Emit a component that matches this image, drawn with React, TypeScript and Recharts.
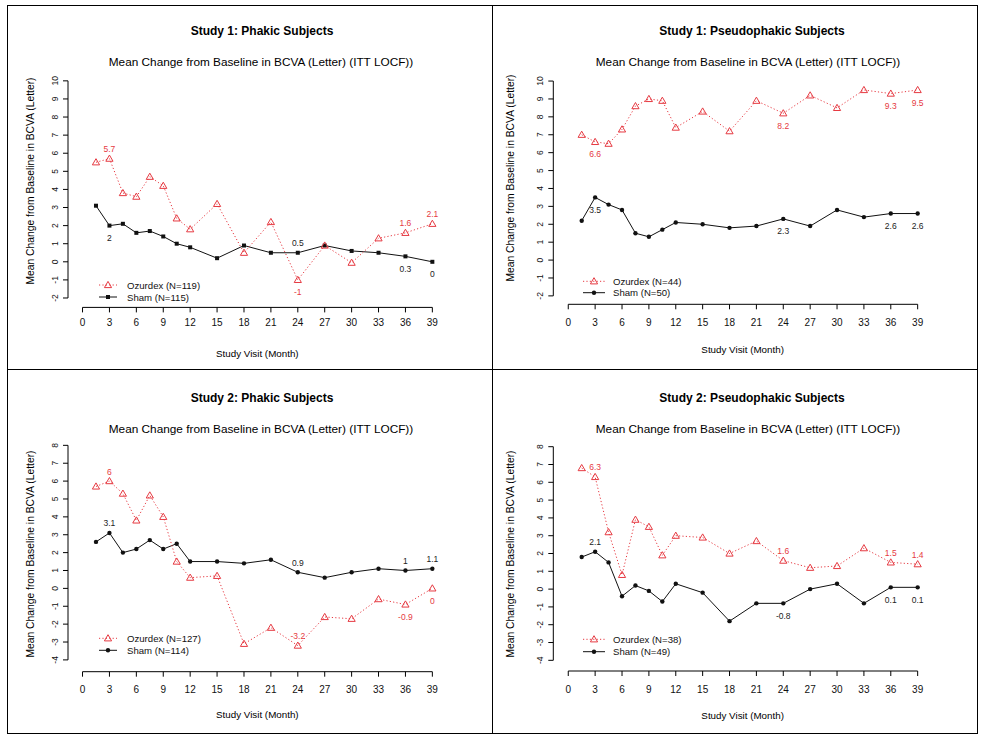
import React from 'react';
import { LineChart, Line, XAxis, YAxis, ReferenceLine } from 'recharts';

// ---------- data ----------
const months = [1.5, 3, 4.5, 6, 7.5, 9, 10.5, 12, 15, 18, 21, 24, 27, 30, 33, 36, 39];
const monthTicks = [0, 3, 6, 9, 12, 15, 18, 21, 24, 27, 30, 33, 36, 39];
const yTicksStudy1 = [-2, -1, 0, 1, 2, 3, 4, 5, 6, 7, 8, 9, 10];
const yTicksStudy2 = [-4, -3, -2, -1, 0, 1, 2, 3, 4, 5, 6, 7, 8];

const s1PhakicOzurdex = [5.5, 5.7, 3.8, 3.6, 4.7, 4.2, 2.4, 1.8, 3.2, 0.5, 2.2, -1, 0.9, -0.05, 1.3, 1.6, 2.1];
const s1PhakicSham = [3.1, 2, 2.1, 1.6, 1.7, 1.4, 1.0, 0.8, 0.2, 0.9, 0.5, 0.5, 0.9, 0.6, 0.5, 0.3, 0];

const s1PseudoOzurdex = [7.0, 6.6, 6.5, 7.3, 8.6, 9.0, 8.9, 7.4, 8.3, 7.2, 8.9, 8.2, 9.2, 8.5, 9.5, 9.3, 9.5];
const s1PseudoSham = [2.2, 3.5, 3.1, 2.8, 1.5, 1.3, 1.7, 2.1, 2.0, 1.8, 1.9, 2.3, 1.9, 2.8, 2.4, 2.6, 2.6];

const s2PhakicOzurdex = [5.7, 6, 5.3, 3.8, 5.2, 4.0, 1.5, 0.6, 0.7, -3.1, -2.2, -3.2, -1.6, -1.7, -0.6, -0.9, 0];
const s2PhakicSham = [2.6, 3.1, 2.0, 2.2, 2.7, 2.2, 2.5, 1.5, 1.5, 1.4, 1.6, 0.9, 0.6, 0.9, 1.1, 1, 1.1];

const s2PseudoOzurdex = [6.8, 6.3, 3.2, 0.8, 3.9, 3.5, 1.9, 3.0, 2.9, 2.0, 2.7, 1.6, 1.2, 1.3, 2.3, 1.5, 1.4];
const s2PseudoSham = [1.8, 2.1, 1.5, -0.4, 0.2, -0.1, -0.7, 0.3, -0.2, -1.8, -0.8, -0.8, 0.0, 0.3, -0.8, 0.1, 0.1];

// months whose values are annotated
const labelledMonths = [3, 24, 36, 39];

// ---------- styles ----------
const RED = '#E63A42';
const BLACK = '#111';
const FONT = '"Liberation Sans", Arial, sans-serif';

type Side = 'up' | 'down';

interface PanelCfg {
  title: string;
  ozName: string;
  shamName: string;
  oz: number[];
  sham: number[];
  yTicks: number[];
  ozSides: Side[];
  shamSides: Side[];
  shamMarker: 'square' | 'circle';
  geom: {
    left: number; top: number; width: number; height: number;
    plotLeft: number; plotRight: number; plotTop: number; plotBottom: number;
    xDomain: [number, number]; yDomain: [number, number];
    xLabelOff: number;
  };
  text: {
    titleX: number; titleY: number; subX: number; subY: number;
    yLabX: number; yLabY: number; xLabY: number;
    legX1: number; legX2: number; legTextX: number; legY1: number; legY2: number;
  };
}

const panels: PanelCfg[] = [
  {
    title: 'Study 1: Phakic Subjects', ozName: 'Ozurdex (N=119)', shamName: 'Sham (N=115)',
    oz: s1PhakicOzurdex, sham: s1PhakicSham, yTicks: yTicksStudy1,
    ozSides: ['up', 'down', 'up', 'up'], shamSides: ['down', 'up', 'down', 'down'], shamMarker: 'square',
    geom: { left: 0, top: 0, width: 492, height: 369, plotLeft: 68, plotRight: 446.7, plotTop: 71.8, plotBottom: 307.4,
      xDomain: [-1.62, 40.6], yDomain: [-2.52, 10.5], xLabelOff: 12 },
    text: { titleX: 262, titleY: 31, subX: 261, subY: 62, yLabX: 30, yLabY: 181, xLabY: 353,
      legX1: 99, legX2: 117, legTextX: 127, legY1: 285, legY2: 297 },
  },
  {
    title: 'Study 1: Pseudophakic Subjects', ozName: 'Ozurdex (N=44)', shamName: 'Sham (N=50)',
    oz: s1PseudoOzurdex, sham: s1PseudoSham, yTicks: yTicksStudy1,
    ozSides: ['down', 'down', 'down', 'down'], shamSides: ['down', 'down', 'down', 'down'], shamMarker: 'circle',
    geom: { left: 492, top: 0, width: 492, height: 369, plotLeft: 61.3, plotRight: 440, plotTop: 72.1, plotBottom: 304.3,
      xDomain: [-1.67, 40.6], yDomain: [-2.47, 10.5], xLabelOff: 15 },
    text: { titleX: 752, titleY: 31, subX: 748, subY: 62, yLabX: 510, yLabY: 178, xLabY: 349,
      legX1: 583, legX2: 605, legTextX: 613, legY1: 281.3, legY2: 292.7 },
  },
  {
    title: 'Study 2: Phakic Subjects', ozName: 'Ozurdex (N=127)', shamName: 'Sham (N=114)',
    oz: s2PhakicOzurdex, sham: s2PhakicSham, yTicks: yTicksStudy2,
    ozSides: ['up', 'up', 'down', 'down'], shamSides: ['up', 'up', 'up', 'up'], shamMarker: 'circle',
    geom: { left: 0, top: 369, width: 492, height: 375, plotLeft: 68, plotRight: 446.7, plotTop: 67.4, plotBottom: 302.7,
      xDomain: [-1.62, 40.6], yDomain: [-4.66, 8.5], xLabelOff: 14 },
    text: { titleX: 262, titleY: 398, subX: 261, subY: 429, yLabX: 30, yLabY: 554, xLabY: 714,
      legX1: 99, legX2: 117, legTextX: 127, legY1: 638.3, legY2: 650.3 },
  },
  {
    title: 'Study 2: Pseudophakic Subjects', ozName: 'Ozurdex (N=38)', shamName: 'Sham (N=49)',
    oz: s2PseudoOzurdex, sham: s2PseudoSham, yTicks: yTicksStudy2,
    ozSides: ['up', 'up', 'up', 'up'], shamSides: ['up', 'down', 'down', 'down'], shamMarker: 'circle',
    geom: { left: 492, top: 369, width: 492, height: 375, plotLeft: 61.3, plotRight: 440, plotTop: 68.8, plotBottom: 302,
      xDomain: [-1.67, 40.6], yDomain: [-4.6, 8.5], xLabelOff: 15 },
    text: { titleX: 752, titleY: 398, subX: 748, subY: 429, yLabX: 510, yLabY: 554, xLabY: 715,
      legX1: 583, legX2: 605, legTextX: 613, legY1: 639.3, legY2: 651.7 },
  },
];

// ---------- helpers ----------
const tri = (cx: number, cy: number, color: string) => (
  <path d={`M${cx},${cy - 3.6} L${cx + 3.6},${cy + 2.6} L${cx - 3.6},${cy + 2.6} Z`} fill="none" stroke={color} strokeWidth={1} />
);

const shamMark = (cx: number, cy: number, kind: 'square' | 'circle') =>
  kind === 'square'
    ? <rect x={cx - 2} y={cy - 2} width={4} height={4} fill={BLACK} />
    : <circle cx={cx} cy={cy} r={2.2} fill={BLACK} />;

const labelText = (cx: number, cy: number, side: Side, value: number, color: string) => (
  <text x={cx} y={side === 'up' ? cy - 6.5 : cy + 15.5} textAnchor="middle" fontSize={8.5} fill={color} fontFamily={FONT}>
    {String(value)}
  </text>
);

const XTick = (props: any) => {
  const { x, y, payload, off } = props;
  return (
    <text x={x} y={y + off} textAnchor="middle" fontSize={10} fill="#111" fontFamily={FONT}>{payload.value}</text>
  );
};

const YTick = (props: any) => {
  const { x, y, payload } = props;
  return (
    <text transform={`translate(${x - 3},${y}) rotate(-90)`} x={0} y={0} textAnchor="middle" fontSize={8.5} fill="#111" fontFamily={FONT}>
      {payload.value}
    </text>
  );
};

function Panel({ cfg }: { cfg: PanelCfg }) {
  const g = cfg.geom;
  const data = months.map((m, i) => ({ month: m, oz: cfg.oz[i], sham: cfg.sham[i] }));
  const ozDot = (p: any) => {
    const { cx, cy, index, payload } = p;
    const li = labelledMonths.indexOf(payload.month);
    return (
      <g key={`oz-${index}`}>
        {tri(cx, cy, RED)}
        {li >= 0 && labelText(cx, cy, cfg.ozSides[li], payload.oz, RED)}
      </g>
    );
  };
  const shamDot = (p: any) => {
    const { cx, cy, index, payload } = p;
    const li = labelledMonths.indexOf(payload.month);
    return (
      <g key={`sh-${index}`}>
        {shamMark(cx, cy, cfg.shamMarker)}
        {li >= 0 && labelText(cx, cy, cfg.shamSides[li], payload.sham, '#222')}
      </g>
    );
  };
  const yt = cfg.yTicks;
  return (
    <div style={{ position: 'absolute', left: g.left, top: g.top, width: g.width, height: g.height }}>
      <LineChart
        width={g.width}
        height={g.height}
        data={data}
        margin={{ top: g.plotTop, right: g.width - g.plotRight, bottom: 0, left: 0 }}
      >
        <XAxis
          dataKey="month"
          type="number"
          domain={g.xDomain}
          allowDataOverflow
          ticks={monthTicks}
          interval={0}
          axisLine={false}
          stroke="#000"
          tickSize={5}
          tickMargin={2}
          height={g.height - g.plotBottom}
          tick={(p: any) => <XTick {...p} off={g.xLabelOff} />}
        />
        <YAxis
          type="number"
          domain={g.yDomain}
          allowDataOverflow
          ticks={yt}
          interval={0}
          axisLine={false}
          stroke="#000"
          tickSize={5}
          tickMargin={2}
          width={g.plotLeft}
          tick={(p: any) => <YTick {...p} />}
        />
        <ReferenceLine
          segment={[{ x: 0, y: g.yDomain[0] }, { x: 39, y: g.yDomain[0] }]}
          stroke="#000"
          strokeWidth={1}
          ifOverflow="visible"
        />
        <ReferenceLine
          segment={[{ x: g.xDomain[0], y: yt[0] }, { x: g.xDomain[0], y: yt[yt.length - 1] }]}
          stroke="#000"
          strokeWidth={1}
          ifOverflow="visible"
        />
        <Line
          dataKey="sham"
          type="linear"
          stroke={BLACK}
          strokeWidth={1}
          dot={shamDot}
          activeDot={false}
          isAnimationActive={false}
        />
        <Line
          dataKey="oz"
          type="linear"
          stroke={RED}
          strokeWidth={1}
          strokeDasharray="1.2 2.2"
          dot={ozDot}
          activeDot={false}
          isAnimationActive={false}
        />
      </LineChart>
    </div>
  );
}

function Overlay() {
  return (
    <svg width={984} height={744} style={{ position: 'absolute', left: 0, top: 0, pointerEvents: 'none' }}>
      {/* frame */}
      <g stroke="#000" strokeWidth={1} shapeRendering="crispEdges">
        <line x1={7} y1={5.5} x2={978} y2={5.5} />
        <line x1={7} y1={733.5} x2={978} y2={733.5} />
        <line x1={7} y1={369.5} x2={978} y2={369.5} />
        <line x1={7.5} y1={5} x2={7.5} y2={734} />
        <line x1={977.5} y1={5} x2={977.5} y2={734} />
        <line x1={492.5} y1={5} x2={492.5} y2={734} />
      </g>
      {panels.map((p, k) => {
        const t = p.text;
        return (
          <g key={k} fontFamily={FONT}>
            <text x={t.titleX} y={t.titleY + 4.2} textAnchor="middle" fontSize={12} fontWeight="bold" fill="#000">{p.title}</text>
            <text x={t.subX} y={t.subY + 4.2} textAnchor="middle" fontSize={11.8} fill="#000">
              Mean Change from Baseline in BCVA (Letter) (ITT LOCF))
            </text>
            <text transform={`translate(${t.yLabX + 3.5},${t.yLabY}) rotate(-90)`} x={0} y={0} textAnchor="middle" fontSize={10.3} fill="#000">
              Mean Change from Baseline in BCVA (Letter)
            </text>
            <text x={p.geom.left + (p.geom.plotLeft + p.geom.plotRight) / 2} y={t.xLabY + 3.5} textAnchor="middle" fontSize={9.8} fill="#000">
              Study Visit (Month)
            </text>
            {/* legend */}
            <line x1={t.legX1} y1={t.legY1} x2={t.legX2} y2={t.legY1} stroke={RED} strokeWidth={1} strokeDasharray="1.2 2.2" />
            {tri((t.legX1 + t.legX2) / 2, t.legY1, RED)}
            <text x={t.legTextX} y={t.legY1 + 3.5} fontSize={9.6} fill="#111">{p.ozName}</text>
            <line x1={t.legX1} y1={t.legY2} x2={t.legX2} y2={t.legY2} stroke={BLACK} strokeWidth={1} />
            {shamMark((t.legX1 + t.legX2) / 2, t.legY2, p.shamMarker)}
            <text x={t.legTextX} y={t.legY2 + 3.5} fontSize={9.6} fill="#111">{p.shamName}</text>
          </g>
        );
      })}
    </svg>
  );
}

export default function App() {
  return (
    <div style={{ position: 'absolute', left: 0, top: 0, width: 984, height: 744, background: '#fff', fontFamily: FONT }}>
      {panels.map((p, i) => <Panel key={i} cfg={p} />)}
      <Overlay />
    </div>
  );
}
